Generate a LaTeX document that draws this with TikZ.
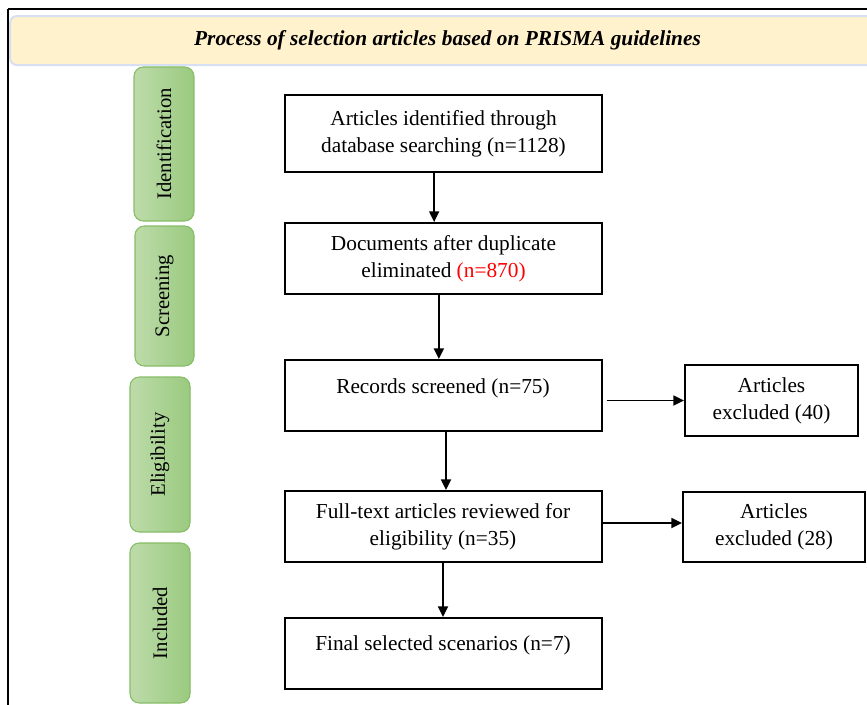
\documentclass[tikz,border=0pt]{standalone}
\usepackage{fontspec}
\setmainfont{Liberation Serif}
\usetikzlibrary{arrows.meta,calc}
\definecolor{titlefill}{HTML}{FFF2CC}
\definecolor{titleline}{HTML}{D6E0F2}
\definecolor{stageL}{HTML}{BDDBAA}
\definecolor{stageR}{HTML}{9ACA7F}
\definecolor{stageline}{HTML}{86BD66}
\definecolor{redtxt}{HTML}{FF0000}
\begin{document}
\begin{tikzpicture}[x=0.75pt,y=-0.75pt,
  frameline/.style={line width=1.1pt,black},
  titlebox/.style={draw=titleline,line width=1.5pt,fill=titlefill,rounded corners=5pt,
    minimum width=656pt,minimum height=36.75pt,inner sep=0pt,
    font=\fontsize{16pt}{19pt}\selectfont\bfseries\itshape},
  stagebox/.style={draw=stageline,line width=0.8pt,left color=stageL,right color=stageR,
    rounded corners=7pt,minimum width=45pt,inner sep=0pt,
    font=\fontsize{15.5pt}{18pt}\selectfont},
  mainbox/.style={draw=black,line width=1.5pt,fill=white,minimum width=237.75pt,
    minimum height=53.25pt,inner sep=0pt,align=center,
    font=\fontsize{16pt}{20.25pt}\selectfont},
  exbox/.style={mainbox,minimum width=129.75pt},
  arr/.style={line width=1.3pt,-{Triangle[length=8pt,width=7.5pt]}}
]
\useasboundingbox (0,0) rectangle (867,704);
\clip (0,0) rectangle (867,704);
% outer frame
\draw[frameline] (8,9) -- (880,9);
\draw[frameline] (8,9) -- (8,720);
% title
\node[titlebox] (title) at (447.5,40.5) {Process of selection articles based on PRISMA guidelines};
% stages
\node[stagebox,minimum height=115.5pt] (s1) at (164,144) {\rotatebox{90}{Identification}};
\node[stagebox,minimum height=105pt,minimum width=44.25pt] (s2) at (164.5,296) {\rotatebox{90}{Screening}};
\node[stagebox,minimum height=116.25pt] (s3) at (160,454.5) {\rotatebox{90}{Eligibility}};
\node[stagebox,minimum height=120pt] (s4) at (160,623) {\rotatebox{90}{Included}};
% main boxes
\node[mainbox,minimum height=57.75pt] (b1) at (443.5,133.5) {Articles identified through\\database searching (n=1128)};
\node[mainbox] (b2) at (443.5,258.5) {Documents after duplicate\\eliminated \textcolor{redtxt}{(n=870)}};
\node[mainbox,label={[font=\fontsize{16pt}{20.25pt}\selectfont,yshift=5pt]center:Records screened (n=75)}] (b3) at (443,395.5) {};
\node[mainbox] (b4) at (443,526.5) {Full-text articles reviewed for\\eligibility (n=35)};
\node[mainbox,label={[font=\fontsize{16pt}{20.25pt}\selectfont,yshift=6pt]center:Final selected scenarios (n=7)}] (b5) at (443,653.5) {};
% excluded boxes
\node[exbox] (e1) at (771.5,400.5) {Articles\\excluded (40)};
\node[exbox,minimum width=136.5pt,minimum height=52.5pt] (e2) at (774,527) {Articles\\excluded (28)};
% connectors
\draw[arr] ([xshift=-7pt]b1.south) -- ([xshift=-7pt]b1.south |- b2.north);
\draw[arr] ([xshift=-3.5pt]b2.south) -- ([xshift=-3.5pt]b2.south |- b3.north);
\draw[arr] ([xshift=2.25pt]b3.south) -- ([xshift=2.25pt]b3.south |- b4.north);
\draw[arr] (b4.south) -- (b4.south |- b5.north);
\draw[arr] ([xshift=3pt]b3.east |- e1.west) -- (e1.west);
\draw[arr] ([yshift=3pt]e2.west -| b4.east) -- ([yshift=3pt]e2.west);
\end{tikzpicture}
\end{document}
